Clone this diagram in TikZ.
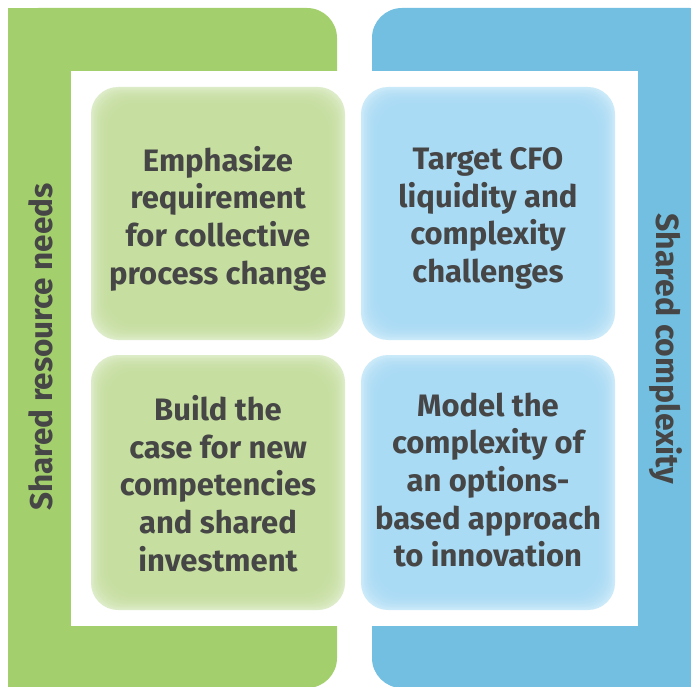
\documentclass[tikz,border=0pt]{standalone}
\usepackage{fontspec}
\setmainfont{Fira Sans}
\definecolor{framegreen}{HTML}{A3CF6D}
\definecolor{frameblue}{HTML}{72BFE1}
\definecolor{greenedge}{HTML}{DDECC8}
\definecolor{greenin}{HTML}{C6DF9E}
\definecolor{blueedge}{HTML}{CBEAF9}
\definecolor{bluein}{HTML}{A8DBF5}
\definecolor{ink}{HTML}{464646}
\tikzset{
  cell/.style={rounded corners=27pt, align=center, text=ink,
    font=\fontsize{31}{37.7}\selectfont\bfseries,
    minimum width=254pt, inner sep=0pt},
  softfill/.style 2 args={fill=#1, path picture={
      \foreach \i in {1.5,3,...,18}{
        \fill[#2, opacity=0.17, rounded corners=27pt]
          ([shift={(\i pt,-\i pt)}]path picture bounding box.north west)
          rectangle
          ([shift={(-\i pt,\i pt)}]path picture bounding box.south east);}}},
  greencell/.style={cell, softfill={greenedge}{greenin}},
  bluecell/.style={cell, softfill={blueedge}{bluein}},
  celltext/.style={cell, fill=none},
  sidelabel/.style={text=ink, font=\fontsize{#1}{36}\selectfont\bfseries}
}
\begin{document}
\begin{tikzpicture}[x=1pt, y=-1pt]
  \useasboundingbox (0,0) rectangle (691,687);
  % left bracket: rounded on the inner side only
  \fill[framegreen, rounded corners=30pt] (8,8) rectangle (337,688);
  \fill[framegreen] (8,8) rectangle (120,688);
  % right bracket
  \fill[frameblue, rounded corners=30pt] (372,8) rectangle (720,688);
  \fill[frameblue] (600,8) rectangle (720,688);
  % inner white field
  \fill[white] (71,71) rectangle (638,626);
  % four cells with soft inner glow
  \node[greencell, minimum height=253pt] (c1) at (218,213.5) {};
  \node[bluecell, minimum height=253pt] (c2) at (488,213.5) {};
  \node[greencell, minimum height=255pt] (c3) at (218,482.5) {};
  \node[bluecell, minimum height=255pt] (c4) at (488,482.5) {};
  % cell texts
  \node[celltext] (t1) at (218,218.5)
    {Emphasize\\requirement\\for collective\\process change};
  \node[celltext] (t2) at (488,218.5)
    {Target CFO\\liquidity and\\complexity\\challenges};
  \node[celltext] (t3) at (218,483.5)
    {Build the\\case for new\\competencies\\and shared\\investment};
  \node[celltext] (t4) at (488,480)
    {Model the\\complexity of\\an options-\\based approach\\to innovation};
  % side labels
  \node[sidelabel=31.5, rotate=90] (l) at (41,347) {Shared resource needs};
  \node[sidelabel=32, rotate=-90] (r) at (666,349) {Shared complexity};
\end{tikzpicture}
\end{document}
